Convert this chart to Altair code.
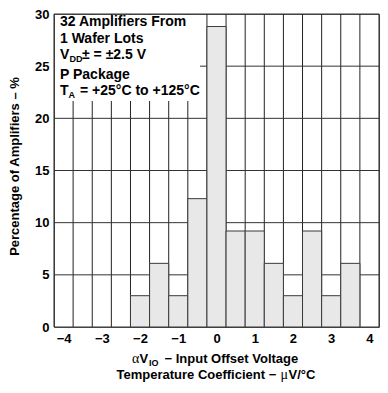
import altair as alt
import pandas as pd

# Histogram bins (centres, µV/°C) and percentage of amplifiers
bin_centers = [-2.0, -1.5, -1.0, -0.5, 0.0, 0.5, 1.0, 1.5, 2.0, 2.5, 3.0, 3.5]
percentages = [3.0, 6.1, 3.0, 12.3, 28.8, 9.2, 9.2, 6.1, 3.0, 9.2, 3.0, 6.1]
bin_width = 0.5

# Grid positions
grid_x = [-4.25, -3.75, -3.25, -2.75, -2.25, -1.75, -1.25, -0.75, -0.25,
          0.25, 0.75, 1.25, 1.75, 2.25, 2.75, 3.25, 3.75, 4.25]
grid_y = [0, 5, 10, 15, 20, 25, 30]
x_ticks = [-4, -3, -2, -1, 0, 1, 2, 3, 4]
y_ticks = [0, 5, 10, 15, 20, 25, 30]

W, H = 325, 313
FONT = "Liberation Sans"
SERIF = "Liberation Serif"

xscale = alt.Scale(domain=[-4.25, 4.25], nice=False, zero=False)
yscale = alt.Scale(domain=[0, 30], nice=False, zero=False)

x_axis = alt.Axis(values=x_ticks, title=None, grid=False, ticks=False,
                  domain=False, labelFont=FONT, labelFontSize=13,
                  labelFontWeight="bold", labelColor="#000", labelPadding=5,
                  labelExpr="replace(datum.label, '-', '\u2212')")
y_axis = alt.Axis(values=y_ticks, title="Percentage of Amplifiers \u2013 %",
                  grid=False, ticks=False, domain=False,
                  labelFont=FONT, labelFontSize=13, labelFontWeight="bold",
                  labelColor="#000", labelPadding=5,
                  titleFont=FONT, titleFontSize=13, titleFontWeight="bold",
                  titleColor="#000", titleX=-40, titleY=152,
                  titleAngle=270, titleBaseline="middle", titleAlign="center")

bars_df = pd.DataFrame({"center": bin_centers, "pct": percentages})
gx_df = pd.DataFrame({"gx": grid_x})
gy_df = pd.DataFrame({"gy": grid_y})
one = pd.DataFrame({"k": [0]})

bars = alt.Chart(bars_df).transform_calculate(
    x0=f"datum.center - {bin_width / 2}",
    x1=f"datum.center + {bin_width / 2}",
).mark_rect(fill="#e8e8e8", stroke="#3a3a3a", strokeWidth=1).encode(
    x=alt.X("x0:Q", scale=xscale, axis=x_axis),
    x2="x1:Q",
    y=alt.Y("pct:Q", scale=yscale, axis=y_axis),
    y2=alt.datum(0),
)

vgrid = alt.Chart(gx_df).mark_rule(color="#222", strokeWidth=1).encode(
    x=alt.X("gx:Q", scale=xscale, axis=x_axis)
)
hgrid = alt.Chart(gy_df).mark_rule(color="#333", strokeWidth=1).encode(
    y=alt.Y("gy:Q", scale=yscale, axis=y_axis)
)

box = alt.Chart(one).mark_rect(fill="white").encode(
    x=alt.value(1), x2=alt.value(146), y=alt.value(1), y2=alt.value(87)
)


def txt(s, x, y, size=13.5, font=FONT, weight="bold"):
    return alt.Chart(one).mark_text(
        align="left", baseline="alphabetic", font=font, fontSize=size,
        fontWeight=weight, color="#000"
    ).encode(x=alt.value(x), y=alt.value(y), text=alt.value(s))


legend = [
    txt("32 Amplifiers From", 6, 12, size=14),
    txt("1 Wafer Lots", 6, 28.5, size=14),
    txt("V", 6, 45, size=14),
    txt("DD", 15.5, 48, size=9),
    txt("\u00b1 = \u00b12.5 V", 28, 45, size=14),
    txt("P Package", 6, 64.5, size=14),
    txt("T", 6, 80.5, size=14),
    txt("A", 14.5, 83.5, size=9),
    txt("= +25\u00b0C to +125\u00b0C", 26, 80.5, size=14),
]

xtitle = [
    txt("\u03b1", 78, 349, size=14, font=SERIF, weight="normal"),
    txt("V", 85.5, 349, size=13),
    txt("IO", 95, 352, size=9),
    txt("\u2212 Input Offset Voltage", 110.5, 349, size=13),
    txt("Temperature Coefficient \u2212", 62.5, 365, size=13),
    txt("\u03bc", 226.5, 365, size=14, font=SERIF, weight="normal"),
    txt("V/\u00b0C", 234.5, 365, size=13),
]

chart = alt.layer(vgrid, hgrid, bars, box, *legend, *xtitle).properties(
    width=W, height=H,
    autosize=alt.AutoSizeParams(type="none"),
    padding={"left": 46, "top": 6, "right": 1, "bottom": 55},
).configure_view(stroke="#555", strokeWidth=1)

chart.save("out.html", embed_options={"renderer": "svg", "actions": False})
